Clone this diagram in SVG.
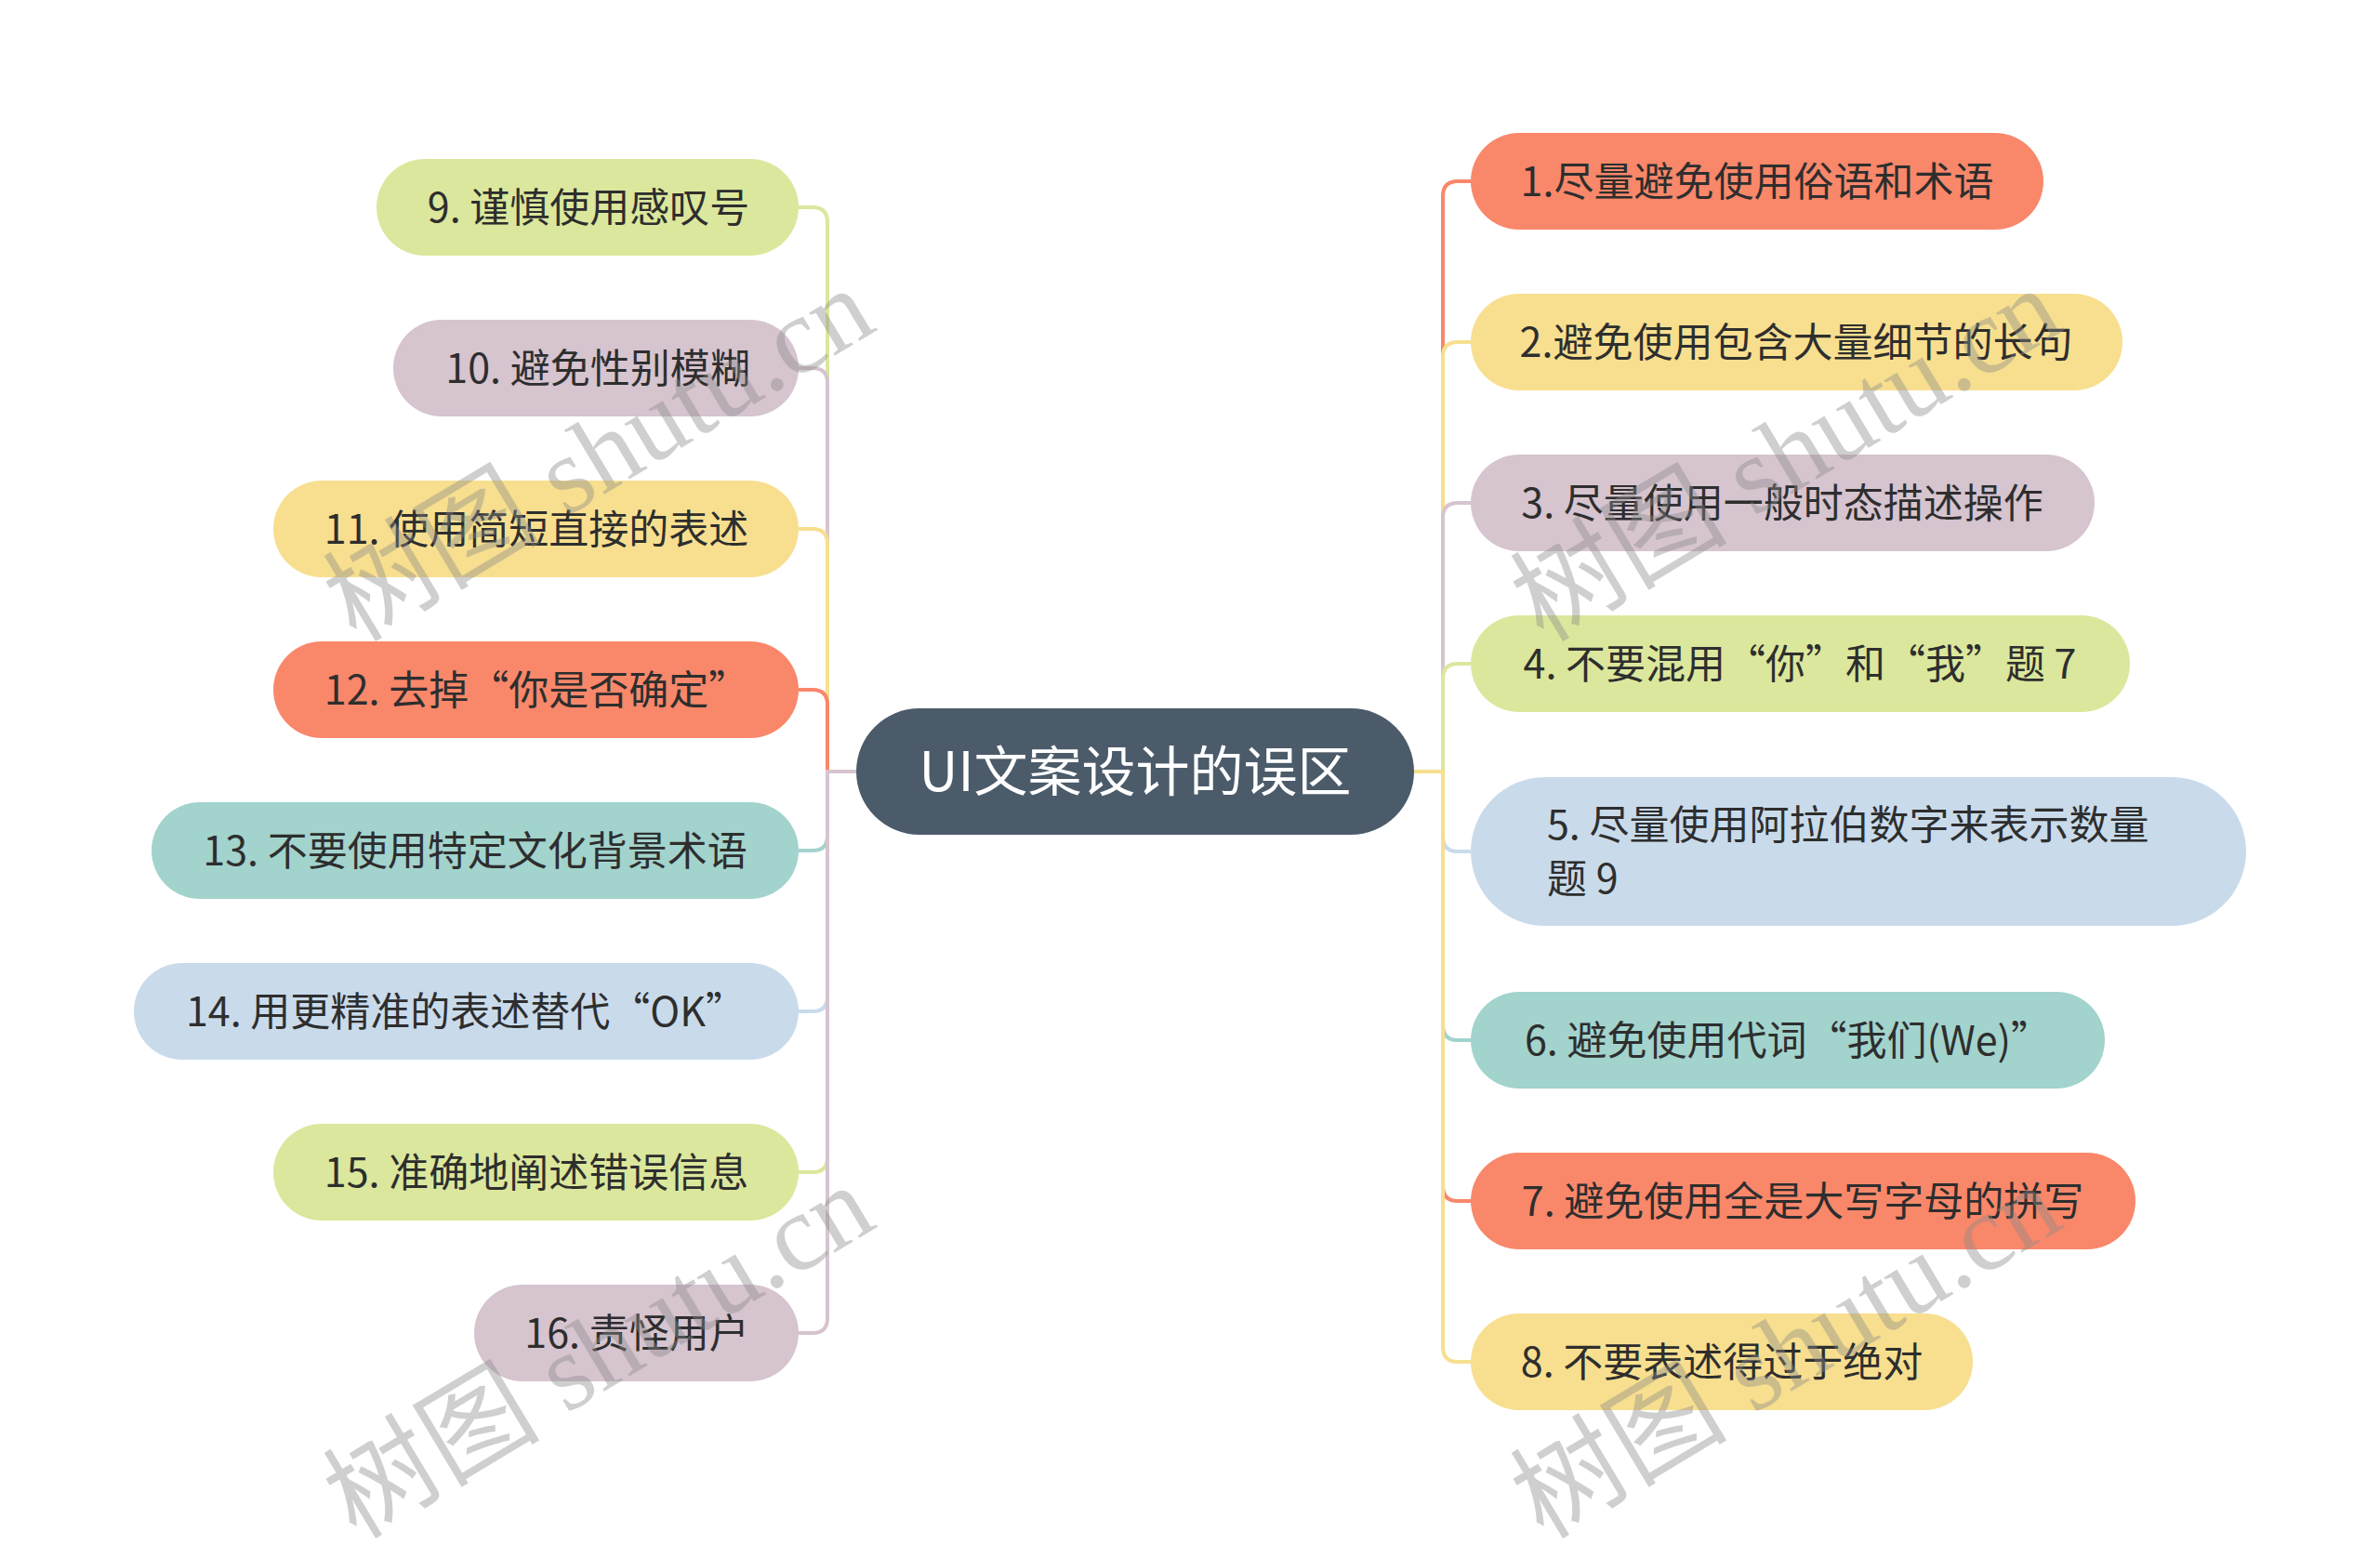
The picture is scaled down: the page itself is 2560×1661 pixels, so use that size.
<svg xmlns="http://www.w3.org/2000/svg" width="2560" height="1661" viewBox="0 0 2560 1661">
<style>
.n{stroke:none}
.t{font-family:"Noto Sans CJK SC","Noto Sans",sans-serif;font-size:43px;fill:#2e2e2e;text-anchor:middle}
.ts{text-anchor:start}
.ct{font-family:"Noto Sans CJK SC","Noto Sans",sans-serif;font-size:58px;fill:#ffffff;text-anchor:middle}
.c{fill:none;stroke-width:4}
.wm{font-family:"Liberation Serif","Noto Sans CJK SC",serif;font-size:117px;fill:#8a8a8a;opacity:0.4}
.or{fill:#f9876a}.ye{fill:#f7df8f}.pu{fill:#d6c4cf}.gr{fill:#dbe79c}.bl{fill:#c9dbeb}.te{fill:#a2d3cd}
.sor{stroke:#f9876a}.sye{stroke:#f7df8f}.spu{stroke:#d6c4cf}.sgr{stroke:#dbe79c}.sbl{stroke:#c9dbeb}.ste{stroke:#a2d3cd}
</style>
<rect width="2560" height="1661" fill="#ffffff"/>
<g id="connectors">
<path class="c sgr" d="M921 830H890V239Q890 223 874 223H859"/>
<path class="c spu" d="M921 830H890V412Q890 396 874 396H859"/>
<path class="c sye" d="M921 830H890V585Q890 569 874 569H859"/>
<path class="c sor" d="M921 830H890V758Q890 742 874 742H859"/>
<path class="c ste" d="M921 830H890V899Q890 915 874 915H859"/>
<path class="c sbl" d="M921 830H890V1072Q890 1088 874 1088H859"/>
<path class="c sgr" d="M921 830H890V1245Q890 1261 874 1261H859"/>
<path class="c spu" d="M921 830H890V1418Q890 1434 874 1434H859"/>
<path class="c sor" d="M1521 830H1552V211Q1552 195 1568 195H1582"/>
<path class="c sye" d="M1521 830H1552V384Q1552 368 1568 368H1582"/>
<path class="c spu" d="M1521 830H1552V557Q1552 541 1568 541H1582"/>
<path class="c sgr" d="M1521 830H1552V730Q1552 714 1568 714H1582"/>
<path class="c sbl" d="M1521 830H1552V900Q1552 916 1568 916H1582"/>
<path class="c ste" d="M1521 830H1552V1103Q1552 1119 1568 1119H1582"/>
<path class="c sor" d="M1521 830H1552V1276Q1552 1292 1568 1292H1582"/>
<path class="c sye" d="M1521 830H1552V1449Q1552 1465 1568 1465H1582"/>
</g>
<g id="center">
<rect x="921" y="762" width="600" height="136" rx="68" fill="#4b5b6a"/>
<text class="ct" x="1221" y="851">UI文案设计的误区</text>
</g>
<g id="n1"><rect class="n or" x="1582" y="143" width="616" height="104" rx="52"/><text class="t" x="1890" y="211">1.尽量避免使用俗语和术语</text></g>
<g id="n2"><rect class="n ye" x="1582" y="316" width="701" height="104" rx="52"/><text class="t" x="1932" y="384">2.避免使用包含大量细节的长句</text></g>
<g id="n3"><rect class="n pu" x="1582" y="489" width="671" height="104" rx="52"/><text class="t" x="1917" y="557">3. 尽量使用一般时态描述操作</text></g>
<g id="n4"><rect class="n gr" x="1582" y="662" width="709" height="104" rx="52"/><text class="t" x="1936" y="730">4. 不要混用“你”和“我”题 7</text></g>
<g id="n5"><rect class="n bl" x="1582" y="836" width="834" height="160" rx="80"/><text class="t ts" x="1664" y="903">5. 尽量使用阿拉伯数字来表示数量</text><text class="t ts" x="1664" y="961">题 9</text></g>
<g id="n6"><rect class="n te" x="1582" y="1067" width="682" height="104" rx="52"/><text class="t" x="1923" y="1135">6. 避免使用代词“我们(We)”</text></g>
<g id="n7"><rect class="n or" x="1582" y="1240" width="715" height="104" rx="52"/><text class="t" x="1939" y="1308">7. 避免使用全是大写字母的拼写</text></g>
<g id="n8"><rect class="n ye" x="1582" y="1413" width="540" height="104" rx="52"/><text class="t" x="1852" y="1481">8. 不要表述得过于绝对</text></g>
<g id="n9"><rect class="n gr" x="405" y="171" width="454" height="104" rx="52"/><text class="t" x="633" y="239">9. 谨慎使用感叹号</text></g>
<g id="n10"><rect class="n pu" x="423" y="344" width="436" height="104" rx="52"/><text class="t" x="643" y="412">10. 避免性别模糊</text></g>
<g id="n11"><rect class="n ye" x="294" y="517" width="565" height="104" rx="52"/><text class="t" x="577" y="585">11. 使用简短直接的表述</text></g>
<g id="n12"><rect class="n or" x="294" y="690" width="565" height="104" rx="52"/><text class="t" x="577" y="758">12. 去掉“你是否确定”</text></g>
<g id="n13"><rect class="n te" x="163" y="863" width="696" height="104" rx="52"/><text class="t" x="511" y="931">13. 不要使用特定文化背景术语</text></g>
<g id="n14"><rect class="n bl" x="144" y="1036" width="715" height="104" rx="52"/><text class="t" x="501" y="1104">14. 用更精准的表述替代“OK”</text></g>
<g id="n15"><rect class="n gr" x="294" y="1209" width="565" height="104" rx="52"/><text class="t" x="577" y="1277">15. 准确地阐述错误信息</text></g>
<g id="n16"><rect class="n pu" x="510" y="1382" width="349" height="104" rx="52"/><text class="t" x="685" y="1450">16. 责怪用户</text></g>
<g id="watermarks">
<text class="wm" transform="translate(383 692) rotate(-31)">树图 shutu.cn</text>
<text class="wm" transform="translate(1660 692) rotate(-31)">树图 shutu.cn</text>
<text class="wm" transform="translate(383 1657) rotate(-31)">树图 shutu.cn</text>
<text class="wm" transform="translate(1660 1657) rotate(-31)">树图 shutu.cn</text>
</g>
</svg>
